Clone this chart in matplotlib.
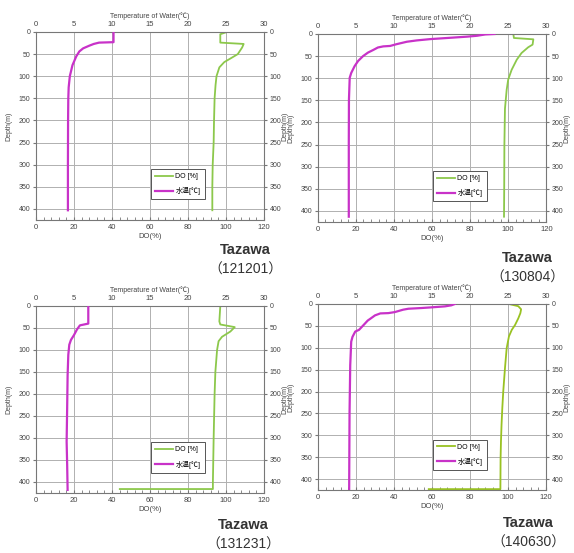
import matplotlib
matplotlib.use("Agg")
from matplotlib import pyplot as plt
from matplotlib.ticker import MultipleLocator

plt.rcParams['font.family'] = ['Liberation Sans', 'Noto Sans CJK JP', 'DejaVu Sans']

# --- 121201 ---
t1_depth = [0, 23, 24, 27, 31, 37, 44, 55, 75, 100, 125, 150, 200, 300, 403]
t1_temp = [10.2, 10.2, 8.3, 7.6, 7.0, 6.2, 5.7, 5.3, 4.8, 4.45, 4.3, 4.25, 4.22, 4.2, 4.2]
do1_depth = [0, 5, 24, 27, 35, 50, 60, 68, 80, 100, 120, 150, 200, 250, 300, 350, 403]
do1_val = [100.5, 97.0, 97.0, 109.3, 108.5, 106.2, 102.3, 99.1, 96.5, 95.0, 94.5, 94.0, 93.7, 93.5, 93.0, 92.8, 92.8]

# --- 130804 ---
t2_depth = [0, 1, 4, 6, 9, 11.5, 14.5, 17.5, 23, 27, 28, 30.5, 36, 42, 50, 61, 72.5, 88, 99, 149, 250, 413]
t2_temp = [23.2, 22.0, 20.9, 19.6, 17.0, 14.8, 13.0, 11.7, 10.35, 9.5, 8.6, 7.9, 7.3, 6.6, 5.95, 5.3, 4.85, 4.4, 4.2, 4.1, 4.08, 4.08]
do2_depth = [0, 9, 12, 24, 30, 43, 58, 81, 103, 126, 169, 250, 350, 413]
do2_val = [102.7, 103.0, 113.2, 112.8, 110.5, 107.0, 104.5, 101.8, 100.0, 99.2, 98.3, 98.0, 97.9, 97.8]

# --- 131231 ---
t3_depth = [0, 40, 44, 53, 66, 77, 88, 111, 157, 232, 308, 360, 418]
t3_temp = [6.88, 6.88, 5.78, 5.4, 5.0, 4.6, 4.38, 4.25, 4.16, 4.1, 4.03, 4.1, 4.16]
do3_depth = [0, 35, 42, 48, 58, 70, 80, 100, 150, 200, 300, 400, 416, 416]
do3_val = [97.0, 96.5, 97.0, 104.6, 102.3, 97.9, 96.1, 95.3, 94.4, 94.0, 93.5, 93.1, 93.1, 44.1]

# --- 140630 ---
t4_depth = [0, 3, 5.4, 7.7, 9.2, 10.8, 13, 18.5, 20.8, 21.5, 26, 34, 37.7, 48, 59, 63, 75, 86, 140, 250, 424]
t4_temp = [18.0, 17.55, 16.7, 14.9, 13.6, 11.9, 11.2, 10.1, 9.26, 8.2, 7.5, 6.86, 6.55, 6.0, 5.4, 4.9, 4.54, 4.37, 4.24, 4.15, 4.1]
do4_depth = [0, 5, 12, 21, 33, 48, 59, 74, 101, 147, 200, 238, 276, 314, 352, 420, 423, 423]
do4_val = [100.5, 105.4, 106.9, 106.5, 105.4, 103.7, 102.0, 100.5, 99.3, 98.4, 97.5, 97.0, 96.6, 96.3, 96.1, 96.0, 96.0, 58.3]

panels = [
    ("121201", t1_depth, t1_temp, do1_depth, do1_val, '#8cc84b'),
    ("130804", t2_depth, t2_temp, do2_depth, do2_val, '#8cc84b'),
    ("131231", t3_depth, t3_temp, do3_depth, do3_val, '#8cc84b'),
    ("140630", t4_depth, t4_temp, do4_depth, do4_val, '#99c222'),
]

W, H = 574, 553
boxes = [(36, 220, 228, 188), (317.7, 222, 228.6, 188),
         (36, 493, 228, 187), (318, 490, 228, 186)]
title_pos = [(245, 250), (527, 258), (243, 525), (528, 523)]

fig = plt.figure(figsize=(W / 100, H / 100), dpi=100)

tc = '#444444'
for (name, td, tv, dd, dv, gcol), (x0, yb, w, h), (tx, ty) in zip(panels, boxes, title_pos):
    ax = fig.add_axes([x0 / W, 1 - yb / H, w / W, h / H])
    ax.set_xlim(0, 120)
    ax.set_ylim(425, 0)
    ax.xaxis.set_major_locator(MultipleLocator(20))
    ax.xaxis.set_minor_locator(MultipleLocator(4))
    ax.yaxis.set_major_locator(MultipleLocator(50))
    ax.grid(True, color='#b0b0b0', linewidth=0.7)
    for s in ax.spines.values():
        s.set_color('#777777')
        s.set_linewidth(0.8)
    ax.tick_params(axis='x', which='both', direction='in', labelsize=5.5, colors='#777777',
                   labelcolor=tc, length=2.5, pad=3)
    ax.tick_params(axis='y', which='both', labelsize=5, colors='#777777', labelcolor=tc,
                   length=2, pad=2, right=True, labelright=True)
    ax.set_xlabel('DO(%)', fontsize=5.5, color=tc, labelpad=1)
    ax.set_ylabel('Depth(m)', fontsize=5, color=tc)
    ax.yaxis.set_label_coords(-0.102, 0.5)
    ax.text(1.09, 0.5, 'Depth(m)', transform=ax.transAxes, rotation=90,
            fontsize=5, color=tc, ha='center', va='center')
    l_do, = ax.plot(dv, dd, color=gcol, linewidth=1.3, label='DO [%]')

    ax2 = ax.twiny()
    ax2.set_xlim(0, 30)
    ax2.xaxis.set_major_locator(MultipleLocator(5))
    ax2.tick_params(axis='x', labelsize=5.5, colors='#777777', labelcolor=tc, length=0, pad=3)
    for s in ax2.spines.values():
        s.set_visible(False)
    ax2.set_xlabel('Temperature of Water(℃)', fontsize=5, color=tc, labelpad=2)
    l_t, = ax2.plot(tv, td, color='#c832c8', linewidth=1.6, label='水温[℃]')

    leg = ax2.legend([l_do, l_t], ['DO [%]', '水温[℃]'], loc='upper left',
                     bbox_to_anchor=(0.49, 0.29), fontsize=5, frameon=True,
                     fancybox=False, edgecolor='#555555', framealpha=1,
                     handlelength=2.6, labelspacing=1.0, borderpad=0.6, handletextpad=0.3)
    leg.get_frame().set_linewidth(0.7)

    fig.text(tx / W, 1 - ty / H, 'Tazawa', ha='center', va='center',
             fontsize=10.5, fontweight='bold', color='#333333')
    fig.text(tx / W, 1 - (ty + 20) / H, '（' + name + '）', ha='center', va='center',
             fontsize=10, color='#333333')

fig.savefig('out.png', dpi=100)
